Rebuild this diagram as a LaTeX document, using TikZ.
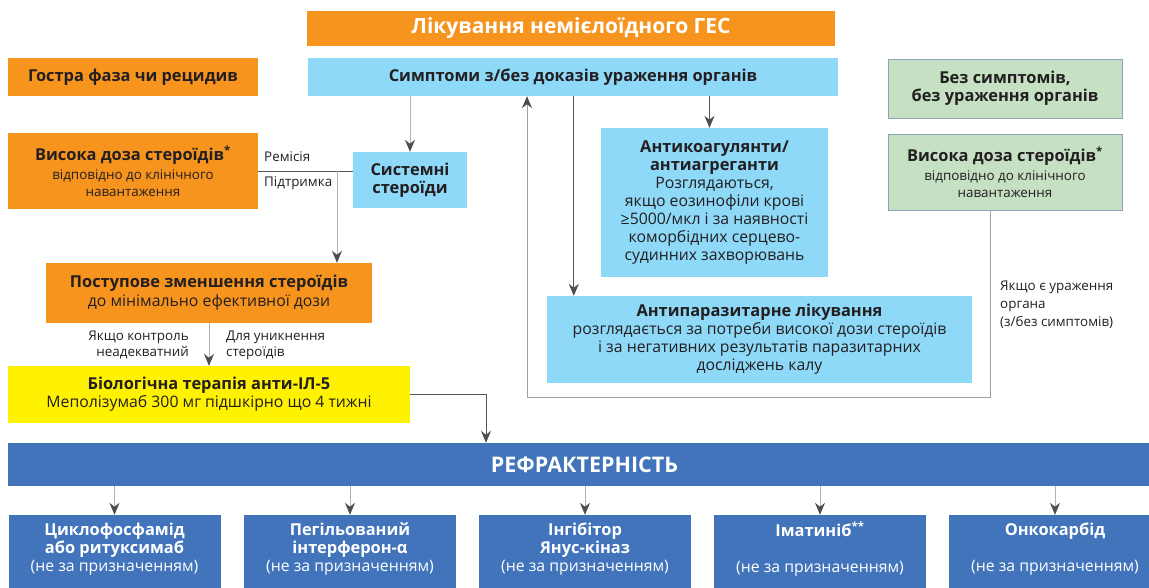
\documentclass[tikz,border=0pt]{standalone}
\usepackage{fontspec}
\setmainfont{Open Sans}
\usetikzlibrary{arrows.meta}
\definecolor{ora}{HTML}{F7941D}
\definecolor{lbl}{HTML}{8ED8F8}
\definecolor{grn}{HTML}{C5E0C3}
\definecolor{grnb}{HTML}{8FA3B8}
\definecolor{yel}{HTML}{FFF200}
\definecolor{blu}{HTML}{4174BA}
\definecolor{txt}{HTML}{231F20}
\definecolor{ldark}{HTML}{555555}
\definecolor{llight}{HTML}{B3B3B3}
\definecolor{tipc}{HTML}{4D4D4D}
\newcommand{\fb}{\fontsize{16.4}{18}\selectfont\bfseries}
\newcommand{\fr}{\fontsize{15.8}{18}\selectfont}
\newcommand{\fs}{\fontsize{13.4}{18}\selectfont}
\begin{document}
\begin{tikzpicture}[x=1pt,y=-1pt,
  box/.style={inner sep=0pt, align=center, text=txt, font=\fr},
  ob/.style={box, fill=ora},
  lb/.style={box, fill=lbl},
  gb/.style={box, fill=grn, draw=grnb, line width=0.8pt},
  yb/.style={box, fill=yel},
  bb/.style={box, fill=blu, text=white},
  lab/.style={inner sep=0pt, text=txt, font=\fs},
  arr/.style={-{Stealth[length=12pt,width=10pt,inset=4pt,color=tipc]}, draw=ldark, line width=0.9pt},
  arrl/.style={arr, draw=llight},
  ln/.style={draw=ldark, line width=0.9pt},
  lnl/.style={draw=llight, line width=0.9pt}
]
\useasboundingbox (0,0) rectangle (1149,587);
\clip (0,0) rectangle (1149,587);

% top
\node[ob, minimum width=528pt, minimum height=35pt, text=white, font=\fontsize{21}{24}\selectfont\bfseries] (title) at (571,28.5) {Лікування немієлоїдного ГЕС};
\node[ob, minimum width=250pt, minimum height=38pt, font=\fb] (acute) at (133,77) {Гостра фаза чи рецидив};
\node[lb, minimum width=530pt, minimum height=38pt, font=\fb] (sympt) at (573,77) {Симптоми з/без доказів ураження органів};
\node[gb, minimum width=234pt, minimum height=59pt, font=\fb] (green1) at (1005,88.5) {Без симптомів,\\без ураження органів};

% left column
\node[ob, minimum width=250pt, minimum height=76pt] (hdose) at (133,171) {{\fb Висока доза стероїдів\textsuperscript{*}}\\[1pt]{\fs відповідно до клінічного}\\[-1pt]{\fs навантаження}};
\node[lb, minimum width=114pt, minimum height=56pt, font=\fb] (syst) at (410,180) {Системні\\стероїди};
\node[ob, minimum width=326pt, minimum height=60pt] (taper) at (209,293) {{\fb Поступове зменшення стероїдів}\\[1pt]до мінімально ефективної дози};
\node[yb, minimum width=402pt, minimum height=57pt] (bio) at (209,394.5) {{\fb Біологічна терапія анти-ІЛ-5}\\Меполізумаб 300 мг підшкірно що 4 тижні};

% middle
\node[lb, minimum width=227pt, minimum height=149pt] (anticoag) at (714.5,202.5) {{\fb Антикоагулянти/}\\{\fb антиагреганти}\\Розглядаються,\\якщо еозинофіли крові\\≥5000/мкл і за наявності\\коморбідних серцево-\\судинних захворювань};
\node[lb, minimum width=425pt, minimum height=87pt] (antipar) at (759.5,339.5) {{\fb Антипаразитарне лікування}\\розглядається за потреби високої дози стероїдів\\і за негативних результатів паразитарних\\досліджень калу};

% right
\node[gb, minimum width=234pt, minimum height=76pt] (green2) at (1005,172) {{\fb Висока доза стероїдів\textsuperscript{*}}\\[1pt]{\fs відповідно до клінічного}\\[-1pt]{\fs навантаження}};

% labels
\node[lab, anchor=west] (remis) at (264,157) {Ремісія};
\node[lab, anchor=west] (pidtr) at (264,183) {Підтримка};
\node[lab, anchor=east, align=right, font=\fontsize{13.4}{16}\selectfont] (ctrl) at (189,345) {Якщо контроль\\неадекватний};
\node[lab, anchor=west, align=left, font=\fontsize{13.4}{16}\selectfont] (avoid) at (226,345) {Для уникнення\\стероїдів};
\node[lab, anchor=west, align=left] (organ) at (1000,305) {Якщо є ураження\\органа\\(з/без симптомів)};

% refractoriness
\node[bb, minimum width=1153pt, minimum height=43pt, font=\fontsize{21.5}{24}\selectfont\bfseries] (refr) at (584.5,464.5) {РЕФРАКТЕРНІСТЬ};
\foreach \n/\cx/\t in {b1/114.5/{{\fb Циклофосфамід}\\{\fb або ритуксимаб}\\(не за призначенням)},
                       b2/350/{{\fb Пегільований}\\{\fb інтерферон-α}\\(не за призначенням)},
                       b3/585/{{\fb Інгібітор}\\{\fb Янус-кіназ}\\(не за призначенням)},
                       b4/820/{{\fb Іматиніб\textsuperscript{**}}\\[18pt](не за призначенням)},
                       b5/1055/{{\fb Онкокарбід}\\[18pt](не за призначенням)}}{
  \fill[blu] (\cx-106,570) rectangle (\cx+106,600);
  \node[bb, minimum width=212pt, minimum height=68pt] (\n) at (\cx,549) {\t};
  \draw[arrl] (\n.north |- refr.south) -- (\n.north);
}

% connectors
\draw[arrl] (syst.north |- sympt.south) -- (syst.north);
\draw[arr] ([xshift=-5pt]anticoag.north |- sympt.south) -- ([xshift=-5pt]anticoag.north);
\draw[arr] ([xshift=27pt]antipar.north west |- sympt.south) -- ([xshift=27pt]antipar.north west);
\coordinate (loopc) at (527,397);
\draw[arr, draw=llight!80!ldark] ([xshift=-15pt]green2.south) |- (loopc) -- (loopc |- sympt.south);
\draw[ln] (hdose.east) -- (hdose.east -| syst.west);
\coordinate (split) at (337,171);
\draw[arrl] (split) -- (split |- taper.north);
\draw[arrl] (taper.south) -- (bio.north);
\coordinate (refx) at (486,0);
\draw[arr] (bio.east) -| (refr.north -| refx);
\end{tikzpicture}
\end{document}
